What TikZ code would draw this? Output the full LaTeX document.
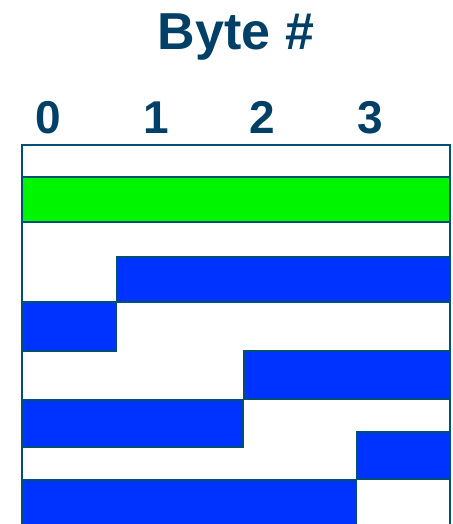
\documentclass[tikz,border=0pt]{standalone}
\usepackage{fontspec}
\setmainfont{Liberation Sans}
\definecolor{bytetext}{RGB}{0,63,102}
\definecolor{byteline}{RGB}{0,80,115}
\definecolor{wordgreen}{RGB}{0,245,0}
\definecolor{wordblue}{RGB}{0,51,255}
\tikzset{
  cell/.style={draw=byteline,line width=2pt},
  label/.style={font=\bfseries\fontsize{46}{46}\selectfont,text=bytetext,anchor=base,inner sep=0}
}
\begin{document}
\begin{tikzpicture}[x=1pt,y=-1pt]
  \useasboundingbox (0,0) rectangle (452,524);
  \clip (0,0) rectangle (452,524);
  \node[label,font=\bfseries\fontsize{52}{52}\selectfont] (title) at (236,50) {Byte \#};
  \foreach \i/\x in {0/48,1/156,2/262,3/370}
    \node[label] (byte\i) at (\x,133) {\i};
  % frame
  \draw[cell] (22,540) -- (22,145) -- (450,145) -- (450,540);
  % words
  \draw[cell,fill=wordgreen] (22,177) rectangle (450,222);
  \draw[cell,fill=wordblue] (117,257) rectangle (450,302);
  \draw[cell,fill=wordblue] (22,302) rectangle (116,351);
  \draw[cell,fill=wordblue] (244,351) rectangle (450,399);
  \draw[cell,fill=wordblue] (22,400) rectangle (243,447);
  \draw[cell,fill=wordblue] (357,432) rectangle (450,479);
  \draw[cell,fill=wordblue] (22,480) rectangle (356,540);
\end{tikzpicture}
\end{document}
